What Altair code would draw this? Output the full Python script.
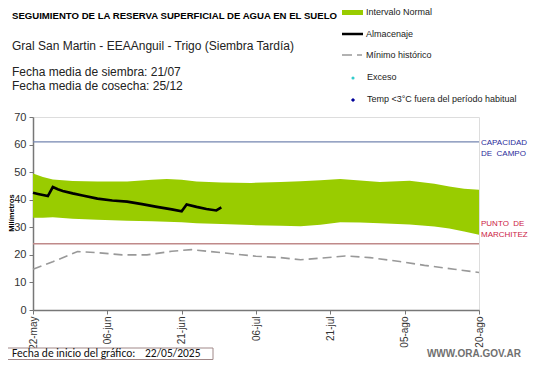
import altair as alt
import pandas as pd

# ---------------- data ----------------
START = "2025-05-22"
END = "2025-08-20"

band_days = [0, 2, 4, 8, 13, 19, 24, 27, 30, 33, 38, 44, 50, 54, 58, 62, 66, 70, 76, 81, 84, 87, 90]
band_upper = [49.5, 48.2, 47.3, 46.8, 46.6, 46.6, 47.2, 47.5, 47.2, 46.6, 46.2, 46.1, 46.4, 46.7, 47.1, 47.5, 47.0, 46.4, 46.9, 45.8, 44.8, 44.0, 43.6]
band_lower = [33.5, 33.5, 33.6, 33.1, 32.7, 32.4, 32.2, 32.0, 31.8, 31.5, 31.2, 30.8, 30.6, 30.4, 30.9, 31.8, 31.7, 31.5, 31.0, 30.3, 29.6, 28.5, 27.3]

alm_days = [0, 1, 2, 3, 4, 5, 6, 8, 10, 13, 16, 19, 22, 25, 28, 30, 31, 33, 35, 37, 38]
alm_vals = [42.5, 42.1, 41.7, 41.3, 44.6, 43.8, 43.2, 42.3, 41.5, 40.4, 39.7, 39.3, 38.4, 37.4, 36.5, 35.8, 38.3, 37.4, 36.6, 36.1, 37.2]

min_days = [0, 4, 9, 13, 18, 23, 28, 32, 38, 45, 50, 54, 58, 63, 68, 74, 79, 85, 90]
min_vals = [14.8, 17.5, 21.2, 20.8, 20.0, 20.0, 21.3, 21.9, 20.8, 19.5, 19.0, 18.2, 18.8, 19.6, 19.0, 17.6, 16.2, 14.8, 13.6]

capacidad_campo = 61
punto_marchitez = 24

tick_dates = ["2025-05-22", "2025-06-06", "2025-06-21", "2025-07-06", "2025-07-21", "2025-08-05", "2025-08-20"]
y_ticks = [0, 10, 20, 30, 40, 50, 60, 70]

start_ts = pd.Timestamp(START)


def to_date(days):
    return [(start_ts + pd.Timedelta(days=d)).strftime("%Y-%m-%d") for d in days]


band_df = pd.DataFrame({"fecha": to_date(band_days), "sup": band_upper, "inf": band_lower})
alm_df = pd.DataFrame({"fecha": to_date(alm_days), "v": alm_vals})
min_df = pd.DataFrame({"fecha": to_date(min_days), "v": min_vals})


def ms(s):
    return int(pd.Timestamp(s, tz="UTC").value // 10**6)


xscale = alt.Scale(type="utc", domain=[ms(START), ms(END)], nice=False)
yscale = alt.Scale(domain=[0, 70], nice=False)

label_expr = ("utcFormat(datum.value, '%d') + '-' + "
              "['ene','feb','mar','abr','may','jun','jul','ago','sep','oct','nov','dic'][utcmonth(datum.value)]")

xaxis = alt.Axis(values=[ms(d) for d in tick_dates], labelExpr=label_expr, labelAngle=-90,
                 labelFontSize=10, labelColor="#333333", labelFont="Liberation Sans",
                 domainColor="#777777", domainWidth=1.5, tickColor="#777777", tickSize=4,
                 grid=False, title=None, labelPadding=2, labelOverlap=False)
yaxis = alt.Axis(values=y_ticks, labelFontSize=11, labelColor="#333333",
                 labelFont="Liberation Sans", domainColor="#777777", domainWidth=1.5,
                 tickColor="#777777", tickSize=4, grid=False, title=None, labelPadding=3,
                 labelOverlap=False)

OX, OY = 33, 117  # page position of plot origin

band = alt.Chart(band_df).mark_area(color="#99cc00", opacity=1).encode(
    x=alt.X("fecha:T", scale=xscale, axis=xaxis),
    y=alt.Y("sup:Q", scale=yscale, axis=yaxis),
    y2="inf:Q",
)

minimo = alt.Chart(min_df).mark_line(color="#999999", strokeWidth=1.6, strokeDash=[9, 5]).encode(
    x=alt.X("fecha:T", scale=xscale, axis=xaxis), y=alt.Y("v:Q", scale=yscale, axis=yaxis)
)

alm = alt.Chart(alm_df).mark_line(color="#000000", strokeWidth=2.6).encode(
    x=alt.X("fecha:T", scale=xscale, axis=xaxis), y=alt.Y("v:Q", scale=yscale, axis=yaxis)
)

cap_rule = alt.Chart(pd.DataFrame({"v": [capacidad_campo]})).mark_rule(color="#7486b0", strokeWidth=1.2).encode(
    y=alt.Y("v:Q", scale=yscale, axis=yaxis)
)
pm_rule = alt.Chart(pd.DataFrame({"v": [punto_marchitez]})).mark_rule(color="#c08a8a", strokeWidth=1.5).encode(
    y=alt.Y("v:Q", scale=yscale, axis=yaxis)
)

one = pd.DataFrame({"a": [0]})


def txt(s, px, py, size=11, color="#222222", weight="normal", font="Liberation Sans", align="left", angle=0):
    kw = dict(align=align, baseline="middle", fontSize=size, color=color, fontWeight=weight, font=font)
    if angle:
        kw["angle"] = angle
    return alt.Chart(pd.DataFrame({"t": [s]})).mark_text(**kw).encode(
        x=alt.value(px - OX), y=alt.value(py - OY), text="t:N"
    )


def hline(x1, x2, y, color, width, dash=None):
    kw = dict(color=color, strokeWidth=width)
    if dash:
        kw["strokeDash"] = dash
    return alt.Chart(one).mark_rule(**kw).encode(
        x=alt.value(x1 - OX), x2=alt.value(x2 - OX), y=alt.value(y - OY)
    )


NB = "\u00a0"

layers = [band, cap_rule, pm_rule, minimo, alm]

# titles
layers += [
    txt("SEGUIMIENTO DE LA RESERVA SUPERFICIAL DE AGUA EN EL SUELO", 12, 16, size=9.6, weight="bold", color="#000000"),
    txt("Gral San Martin - EEAAnguil - Trigo (Siembra Tardía)", 12, 46, size=12),
    txt("Fecha media de siembra: 21/07", 12, 72, size=12),
    txt("Fecha media de cosecha: 25/12", 12, 86, size=12),
]

# legend
layers += [
    alt.Chart(one).mark_rect(color="#99cc00").encode(
        x=alt.value(342 - OX), x2=alt.value(363 - OX), y=alt.value(10 - OY), y2=alt.value(15 - OY)),
    txt("Intervalo Normal", 366, 12, size=9),
    hline(342, 363, 34, "#000000", 2.5),
    txt("Almacenaje", 366, 34, size=9),
    hline(342, 352, 55, "#999999", 1.5),
    hline(357, 362, 55, "#999999", 1.5),
    txt("Mínimo histórico", 366, 55, size=9),
    alt.Chart(one).mark_point(shape="circle", filled=True, color="#33cccc", size=10, opacity=1).encode(
        x=alt.value(353 - OX), y=alt.value(78 - OY)),
    txt("Exceso", 367, 77, size=9),
    alt.Chart(one).mark_point(shape="diamond", filled=True, color="#000099", size=18, opacity=1).encode(
        x=alt.value(353 - OX), y=alt.value(100 - OY)),
    txt("Temp <3°C fuera del período habitual", 367, 99, size=9),
]

# side labels
layers += [
    txt("CAPACIDAD", 481, 143, size=8, color="#2b2b9a"),
    txt("DE" + NB + NB + "CAMPO", 481, 154, size=8, color="#2b2b9a"),
    txt("PUNTO" + NB + NB + "DE", 481, 224, size=8, color="#cc2244"),
    txt("MARCHITEZ", 481, 235, size=8, color="#cc2244"),
    txt("Milímetros", 12, 213, size=7.5, color="#000000", weight="bold", align="center", angle=270),
]

# footer
layers += [
    alt.Chart(one).mark_rect(fill="white", stroke="#a08888", strokeWidth=1).encode(
        x=alt.value(5 - OX), x2=alt.value(213 - OX), y=alt.value(348 - OY), y2=alt.value(359.5 - OY)),
    txt("Fecha de inicio del gráfico:", 12, 354, size=11.5, color="#111111", font="Carlito"),
    txt("22/05/2025", 145, 354, size=11.5, color="#111111", font="Carlito"),
    txt("WWW.ORA.GOV.AR", 521, 354, size=10, color="#707070", weight="bold", align="right"),
]

chart = alt.layer(*layers).properties(
    width=446,
    height=193,
    autosize="none",
    padding={"left": OX - 8, "top": OY - 8, "right": 541 - 16 - (OX - 8) - 446, "bottom": 352 - (OY - 8) - 193},
).configure_view(stroke=None).configure(background="white")

chart.save("out.html", embed_options={"renderer": "svg", "actions": False})
